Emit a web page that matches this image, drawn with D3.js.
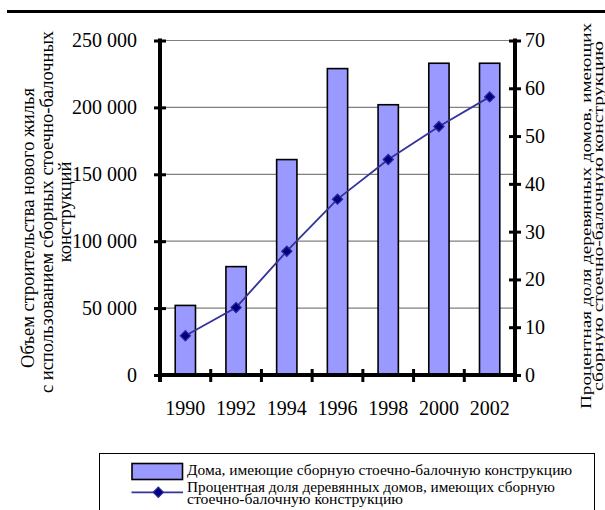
<!DOCTYPE html>
<html>
<head>
<meta charset="utf-8">
<script src="https://cdn.jsdelivr.net/npm/d3@7"></script>
<style>
  html, body { margin: 0; padding: 0; background: #fff; }
  svg { display: block; }
  svg text { font-family: 'Liberation Serif', 'DejaVu Serif', serif; fill: #000; }
</style>
</head>
<body>
<svg id="chart" width="605" height="510"></svg>
<script>
// Years on the category axis
const years = ["1990", "1992", "1994", "1996", "1998", "2000", "2002"];
// Volume of new housing built with prefabricated post-and-beam frames
const volume = [52000, 81000, 161000, 229000, 202000, 233000, 233000];
// Share of wooden houses with a prefabricated post-and-beam frame, %
const share = [8.2, 14.1, 25.9, 36.8, 45.1, 52.0, 58.2];
// Axis ticks
const leftTicks = [0, 50000, 100000, 150000, 200000, 250000];
const rightTicks = [0, 10, 20, 30, 40, 50, 60, 70];

const leftTitle = ["Объем строительства нового жилья",
                   "с использованием сборных стоечно-балочных",
                   "конструкций"];
const rightTitle = ["Процентная доля деревянных домов, имеющих",
                    "сборную стоечно-балочную конструкцию"];
const legendBar = "Дома, имеющие сборную стоечно-балочную конструкцию";
const legendLine = ["Процентная доля деревянных домов, имеющих сборную",
                    "стоечно-балочную конструкцию"];

const svg = d3.select("#chart");
const plot = { left: 160, right: 515, top: 40.5, bottom: 375 };

const x = d3.scaleBand().domain(years)
  .range([plot.left, plot.right]).paddingInner(0.6).paddingOuter(0.3);
const yL = d3.scaleLinear().domain([0, 250000]).range([plot.bottom, plot.top]);
const yR = d3.scaleLinear().domain([0, 70]).range([plot.bottom, plot.top]);

const fmt = v => d3.format(",")(v).replace(/,/g, " ");

// rule across the top of the page
svg.append("line").attr("x1", 7).attr("x2", 605).attr("y1", 11.5).attr("y2", 11.5)
  .attr("stroke", "#000").attr("stroke-width", 3);

// horizontal gridlines
svg.append("g").selectAll("line").data(leftTicks.slice(1)).join("line")
  .attr("x1", plot.left).attr("x2", plot.right)
  .attr("y1", d => yL(d)).attr("y2", d => yL(d))
  .attr("stroke", "#808080").attr("stroke-width", 1.2);

// bars
svg.append("g").selectAll("rect").data(volume).join("rect")
  .attr("x", (d, i) => x(years[i]))
  .attr("width", x.bandwidth())
  .attr("y", d => yL(d))
  .attr("height", d => yL(0) - yL(d))
  .attr("fill", "#9999ff").attr("stroke", "#000").attr("stroke-width", 1.6);

// line series
const cx = i => x(years[i]) + x.bandwidth() / 2;
svg.append("path").datum(share)
  .attr("d", d3.line().x((d, i) => cx(i)).y(d => yR(d)))
  .attr("fill", "none").attr("stroke", "#333399").attr("stroke-width", 1.8);

const diamond = d3.symbol().type(d3.symbolSquare).size(52);
svg.append("g").selectAll("path").data(share).join("path")
  .attr("d", diamond)
  .attr("transform", (d, i) => `translate(${cx(i)},${yR(d)}) rotate(45)`)
  .attr("fill", "#000080").attr("stroke", "#2a2a99").attr("stroke-width", 1.2);

// axes
const axisStyle = g => {
  g.attr("font-family", null);
  g.select(".domain").attr("stroke", "#000").attr("stroke-width", 4);
  g.selectAll(".tick line").attr("stroke", "#000").attr("stroke-width", 3);
  g.selectAll(".tick text").attr("font-size", 20).attr("fill", "#000");
};

const gL = svg.append("g").attr("transform", `translate(${plot.left},0)`)
  .call(d3.axisLeft(yL).tickValues(leftTicks).tickFormat(fmt).tickSizeOuter(0).tickSize(6).tickPadding(17));
gL.selectAll(".tick line").attr("x2", 6).attr("x1", -6);
gL.call(axisStyle);
gL.select(".domain").attr("d", `M0,${plot.top - 2}V${plot.bottom + 7}`);

const gR = svg.append("g").attr("transform", `translate(${plot.right},0)`)
  .call(d3.axisRight(yR).tickValues(rightTicks).tickFormat(d3.format("d")).tickSizeOuter(0).tickSize(6).tickPadding(4));
gR.selectAll(".tick line").attr("x1", -6).attr("x2", 6);
gR.call(axisStyle);
gR.select(".domain").attr("d", `M0,${plot.top - 2}V${plot.bottom + 7}`);

// category axis: ticks between categories
const gB = svg.append("g").attr("transform", `translate(0,${plot.bottom})`);
gB.append("line").attr("x1", plot.left - 2).attr("x2", plot.right + 2)
  .attr("stroke", "#000").attr("stroke-width", 4);
const bounds = years.slice(1).map(y => x(y) - x.step() * x.paddingInner() / 2);
gB.selectAll("line.tk").data(bounds).join("line").attr("class", "tk")
  .attr("x1", d => d).attr("x2", d => d).attr("y1", -6).attr("y2", 7)
  .attr("stroke", "#000").attr("stroke-width", 3);
gB.selectAll("text").data(years).join("text")
  .attr("x", d => x(d) + x.bandwidth() / 2)
  .attr("y", 40)
  .attr("text-anchor", "middle").attr("font-size", 20).text(d => d);

// axis titles
const leftShift = [-16, 0, 0];
const tl = svg.append("g").attr("transform", "translate(28,212) rotate(-90)");
tl.selectAll("text").data(leftTitle).join("text")
  .attr("x", (d, i) => leftShift[i]).attr("y", (d, i) => i * 18.5)
  .attr("dominant-baseline", "central").attr("text-anchor", "middle")
  .attr("font-size", 18.5).text(d => d);

const rightLen = [386, 350];
const tr = svg.append("g").attr("transform", "translate(585.5,216) rotate(-90)");
tr.selectAll("text").data(rightTitle).join("text")
  .attr("x", 0).attr("y", (d, i) => i * 11.5)
  .attr("dominant-baseline", "central").attr("text-anchor", "middle")
  .attr("font-size", 15.5)
  .attr("textLength", (d, i) => rightLen[i]).attr("lengthAdjust", "spacingAndGlyphs")
  .text(d => d);

// legend
const lg = svg.append("g");
lg.append("rect").attr("x", 99.5).attr("y", 453.5).attr("width", 495).attr("height", 70)
  .attr("fill", "#fff").attr("stroke", "#000").attr("stroke-width", 1);
lg.append("rect").attr("x", 132).attr("y", 463.5).attr("width", 50.5).attr("height", 16)
  .attr("fill", "#9999ff").attr("stroke", "#000").attr("stroke-width", 1.6);
lg.append("line").attr("x1", 131.5).attr("x2", 183).attr("y1", 492.3).attr("y2", 492.3)
  .attr("stroke", "#333399").attr("stroke-width", 1.8);
lg.append("path").attr("d", diamond)
  .attr("transform", "translate(158.3,492.3) rotate(45)")
  .attr("fill", "#000080").attr("stroke", "#2a2a99").attr("stroke-width", 1.2);
lg.append("text").attr("x", 187).attr("y", 475).attr("font-size", 15)
  .attr("textLength", 385).attr("lengthAdjust", "spacingAndGlyphs").text(legendBar);
const lineLen = [368, 216];
lg.selectAll("text.l2").data(legendLine).join("text").attr("class", "l2")
  .attr("x", 187).attr("y", (d, i) => 491.5 + i * 12.5)
  .attr("font-size", 14)
  .attr("textLength", (d, i) => lineLen[i]).attr("lengthAdjust", "spacingAndGlyphs")
  .text(d => d);
</script>
</body>
</html>
